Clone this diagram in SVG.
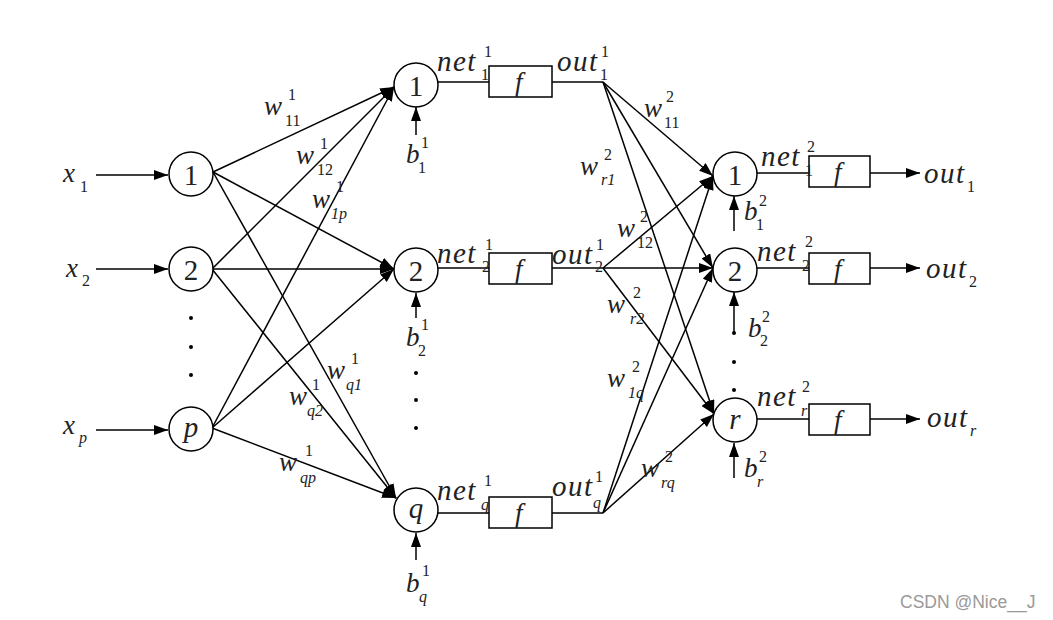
<svg xmlns="http://www.w3.org/2000/svg" width="1053" height="620" viewBox="0 0 1053 620">
<style>
.ln{stroke:#000;stroke-width:1.5;fill:none}
.ar{stroke:#000;stroke-width:1.5;fill:none;marker-end:url(#ah)}
.nd{stroke:#000;stroke-width:1.5;fill:#fff}
.bx{stroke:#000;stroke-width:1.5;fill:#fff}
.t{font-family:"Liberation Serif",serif;font-style:italic;font-size:27px;fill:#222}
.wd{font-size:29px;letter-spacing:1.5px}
.s{font-size:16px;letter-spacing:0}
.u{font-style:normal}
.dg{font-family:"Liberation Serif",serif;font-size:29px;fill:#222;text-anchor:middle}
.dgi{font-style:italic}
.wm{font-family:"Liberation Sans",Arial,sans-serif;font-size:17.5px;fill:#999}
</style>
<defs>
<marker id="ah" markerUnits="userSpaceOnUse" markerWidth="16" markerHeight="12" refX="14" refY="5" orient="auto">
<path d="M0,0 L14,5 L0,10 z" fill="#000"/>
</marker>
</defs>
<rect width="1053" height="620" fill="#fff"/>

<g id="connectors">
<line class="ar" x1="96" y1="175" x2="168" y2="175"/>
<line class="ar" x1="96" y1="269" x2="168" y2="269"/>
<line class="ar" x1="96" y1="430" x2="168" y2="430"/>
<line class="ar" x1="213" y1="172" x2="394" y2="87"/>
<line class="ar" x1="213" y1="172" x2="394" y2="269"/>
<line class="ar" x1="213" y1="172" x2="396" y2="498"/>
<line class="ar" x1="212" y1="269" x2="394" y2="87"/>
<line class="ar" x1="212" y1="269" x2="394" y2="269"/>
<line class="ar" x1="212" y1="269" x2="396" y2="498"/>
<line class="ar" x1="212" y1="428" x2="394" y2="87"/>
<line class="ar" x1="212" y1="428" x2="394" y2="269"/>
<line class="ar" x1="212" y1="428" x2="396" y2="498"/>
<line class="ln" x1="438" y1="82" x2="489" y2="82"/>
<line class="ln" x1="552" y1="82" x2="603" y2="82"/>
<line class="ln" x1="438" y1="268" x2="489" y2="268"/>
<line class="ln" x1="552" y1="268" x2="603" y2="268"/>
<line class="ln" x1="438" y1="513" x2="489" y2="513"/>
<line class="ln" x1="552" y1="513" x2="603" y2="513"/>
<line class="ar" x1="603" y1="82" x2="713" y2="176"/>
<line class="ar" x1="603" y1="82" x2="713" y2="268"/>
<line class="ar" x1="603" y1="82" x2="714" y2="414"/>
<line class="ar" x1="603" y1="268" x2="713" y2="176"/>
<line class="ar" x1="603" y1="268" x2="713" y2="268"/>
<line class="ar" x1="603" y1="268" x2="714" y2="414"/>
<line class="ar" x1="603" y1="513" x2="713" y2="176"/>
<line class="ar" x1="603" y1="513" x2="713" y2="268"/>
<line class="ar" x1="603" y1="513" x2="714" y2="414"/>
<line class="ln" x1="757" y1="173" x2="809" y2="173"/>
<line class="ar" x1="870" y1="173" x2="920" y2="173"/>
<line class="ln" x1="757" y1="268" x2="809" y2="268"/>
<line class="ar" x1="870" y1="268" x2="920" y2="268"/>
<line class="ln" x1="757" y1="419" x2="809" y2="419"/>
<line class="ar" x1="870" y1="419" x2="920" y2="419"/>
<line class="ar" x1="416" y1="135" x2="416" y2="107"/>
<line class="ar" x1="416" y1="318" x2="416" y2="293"/>
<line class="ar" x1="416" y1="560" x2="416" y2="533"/>
<line class="ar" x1="734" y1="231" x2="734" y2="196"/>
<line class="ar" x1="734" y1="333" x2="734" y2="292"/>
<line class="ar" x1="734" y1="478" x2="734" y2="443"/>
</g>

<g id="in1"><circle class="nd" cx="191" cy="174" r="22"/><text class="dg" x="191" y="185">1</text></g>
<g id="in2"><circle class="nd" cx="191" cy="269" r="22"/><text class="dg" x="191" y="280">2</text></g>
<g id="inp"><circle class="nd" cx="191" cy="429" r="22"/><text class="dg dgi" x="191" y="437">p</text></g>
<g id="indots" fill="#000"><circle cx="191" cy="318" r="2"/><circle cx="191" cy="347" r="2"/><circle cx="191" cy="375" r="2"/></g>

<g id="h1"><circle class="nd" cx="416" cy="85" r="22"/><text class="dg" x="416" y="96">1</text></g>
<g id="h2"><circle class="nd" cx="416" cy="270" r="22"/><text class="dg" x="416" y="281">2</text></g>
<g id="hq"><circle class="nd" cx="416" cy="510" r="22"/><text class="dg dgi" x="416" y="518">q</text></g>
<g id="hdots" fill="#000"><circle cx="416" cy="373" r="2"/><circle cx="416" cy="400" r="2"/><circle cx="416" cy="428" r="2"/></g>

<g id="f1"><rect class="bx" x="489" y="66" width="63" height="31"/><text class="t" x="515" y="91">f</text></g>
<g id="f2"><rect class="bx" x="489" y="253" width="63" height="31"/><text class="t" x="515" y="278">f</text></g>
<g id="fq"><rect class="bx" x="489" y="497" width="63" height="31"/><text class="t" x="515" y="522">f</text></g>

<g id="o1"><circle class="nd" cx="735" cy="174" r="22"/><text class="dg" x="735" y="185">1</text></g>
<g id="o2"><circle class="nd" cx="735" cy="270" r="22"/><text class="dg" x="735" y="281">2</text></g>
<g id="or"><circle class="nd" cx="735" cy="420" r="22"/><text class="dg dgi" x="735" y="429">r</text></g>
<g id="odots" fill="#000"><circle cx="734" cy="333" r="2"/><circle cx="734" cy="362" r="2"/><circle cx="734" cy="390" r="2"/></g>

<g id="g1"><rect class="bx" x="809" y="156" width="61" height="31"/><text class="t" x="834" y="181">f</text></g>
<g id="g2"><rect class="bx" x="809" y="253" width="61" height="31"/><text class="t" x="834" y="278">f</text></g>
<g id="gr"><rect class="bx" x="809" y="404" width="61" height="31"/><text class="t" x="834" y="429">f</text></g>

<g id="labels">
<text class="t"><tspan x="63" y="182">x</tspan><tspan class="s u" x="80" y="192">1</tspan></text>
<text class="t"><tspan x="66" y="277">x</tspan><tspan class="s u" x="82" y="286">2</tspan></text>
<text class="t"><tspan x="63" y="434">x</tspan><tspan class="s" x="79" y="443">p</tspan></text>

<text class="t"><tspan x="264" y="115">w</tspan><tspan class="s u" x="288" y="100">1</tspan><tspan class="s u" x="285" y="126">11</tspan></text>
<text class="t"><tspan x="296" y="164">w</tspan><tspan class="s u" x="320" y="149">1</tspan><tspan class="s u" x="317" y="175">12</tspan></text>
<text class="t"><tspan x="312" y="208">w</tspan><tspan class="s u" x="336" y="192">1</tspan><tspan class="s" x="331" y="219">1p</tspan></text>
<text class="t"><tspan x="327" y="379">w</tspan><tspan class="s u" x="351" y="364">1</tspan><tspan class="s" x="346" y="390">q1</tspan></text>
<text class="t"><tspan x="289" y="405">w</tspan><tspan class="s u" x="312" y="390">1</tspan><tspan class="s" x="307" y="416">q2</tspan></text>
<text class="t"><tspan x="279" y="471">w</tspan><tspan class="s u" x="305" y="456">1</tspan><tspan class="s" x="300" y="483">qp</tspan></text>

<text class="t wd"><tspan x="437" y="71">net</tspan><tspan class="s u" x="484" y="57">1</tspan><tspan class="s u" x="481" y="80">1</tspan></text>
<text class="t wd"><tspan x="557" y="71">out</tspan><tspan class="s u" x="601" y="57">1</tspan><tspan class="s u" x="600" y="80">1</tspan></text>
<text class="t wd"><tspan x="437" y="263">net</tspan><tspan class="s u" x="485" y="250">1</tspan><tspan class="s u" x="482" y="272">2</tspan></text>
<text class="t wd"><tspan x="552" y="264">out</tspan><tspan class="s u" x="596" y="250">1</tspan><tspan class="s u" x="595" y="272">2</tspan></text>
<text class="t wd"><tspan x="437" y="500">net</tspan><tspan class="s u" x="484" y="486">1</tspan><tspan class="s" x="481" y="510">q</tspan></text>
<text class="t wd"><tspan x="552" y="496">out</tspan><tspan class="s u" x="595" y="482">1</tspan><tspan class="s" x="593" y="508">q</tspan></text>

<text class="t"><tspan x="406" y="163">b</tspan><tspan class="s u" x="421" y="148">1</tspan><tspan class="s u" x="418" y="173">1</tspan></text>
<text class="t"><tspan x="406" y="346">b</tspan><tspan class="s u" x="421" y="330">1</tspan><tspan class="s u" x="418" y="356">2</tspan></text>
<text class="t"><tspan x="406" y="592">b</tspan><tspan class="s u" x="422" y="576">1</tspan><tspan class="s" x="419" y="602">q</tspan></text>

<text class="t"><tspan x="644" y="117">w</tspan><tspan class="s u" x="666" y="102">2</tspan><tspan class="s u" x="664" y="128">11</tspan></text>
<text class="t"><tspan x="580" y="175">w</tspan><tspan class="s u" x="604" y="160">2</tspan><tspan class="s" x="601" y="185">r1</tspan></text>
<text class="t"><tspan x="617" y="237">w</tspan><tspan class="s u" x="640" y="222">2</tspan><tspan class="s u" x="637" y="248">12</tspan></text>
<text class="t"><tspan x="607" y="313">w</tspan><tspan class="s u" x="633" y="298">2</tspan><tspan class="s" x="630" y="324">r2</tspan></text>
<text class="t"><tspan x="607" y="387">w</tspan><tspan class="s u" x="632" y="372">2</tspan><tspan class="s" x="628" y="398">1q</tspan></text>
<text class="t"><tspan x="641" y="477">w</tspan><tspan class="s u" x="665" y="462">2</tspan><tspan class="s" x="661" y="488">rq</tspan></text>

<text class="t wd"><tspan x="761" y="166">net</tspan><tspan class="s u" x="807" y="152">2</tspan><tspan class="s u" x="805" y="176">1</tspan></text>
<text class="t wd"><tspan x="757" y="261">net</tspan><tspan class="s u" x="805" y="247">2</tspan><tspan class="s u" x="802" y="271">2</tspan></text>
<text class="t wd"><tspan x="757" y="406">net</tspan><tspan class="s u" x="802" y="392">2</tspan><tspan class="s" x="801" y="416">r</tspan></text>

<text class="t wd"><tspan x="924" y="183">out</tspan><tspan class="s u" x="967" y="192">1</tspan></text>
<text class="t wd"><tspan x="926" y="278">out</tspan><tspan class="s u" x="969" y="287">2</tspan></text>
<text class="t wd"><tspan x="927" y="427">out</tspan><tspan class="s" x="970" y="436">r</tspan></text>

<text class="t"><tspan x="744" y="220">b</tspan><tspan class="s u" x="759" y="206">2</tspan><tspan class="s u" x="756" y="230">1</tspan></text>
<text class="t"><tspan x="748" y="337">b</tspan><tspan class="s u" x="762" y="322">2</tspan><tspan class="s u" x="760" y="346">2</tspan></text>
<text class="t"><tspan x="744" y="477">b</tspan><tspan class="s u" x="759" y="462">2</tspan><tspan class="s" x="757" y="487">r</tspan></text>
</g>

<text class="wm" x="900" y="608">CSDN @Nice__J</text>
</svg>
